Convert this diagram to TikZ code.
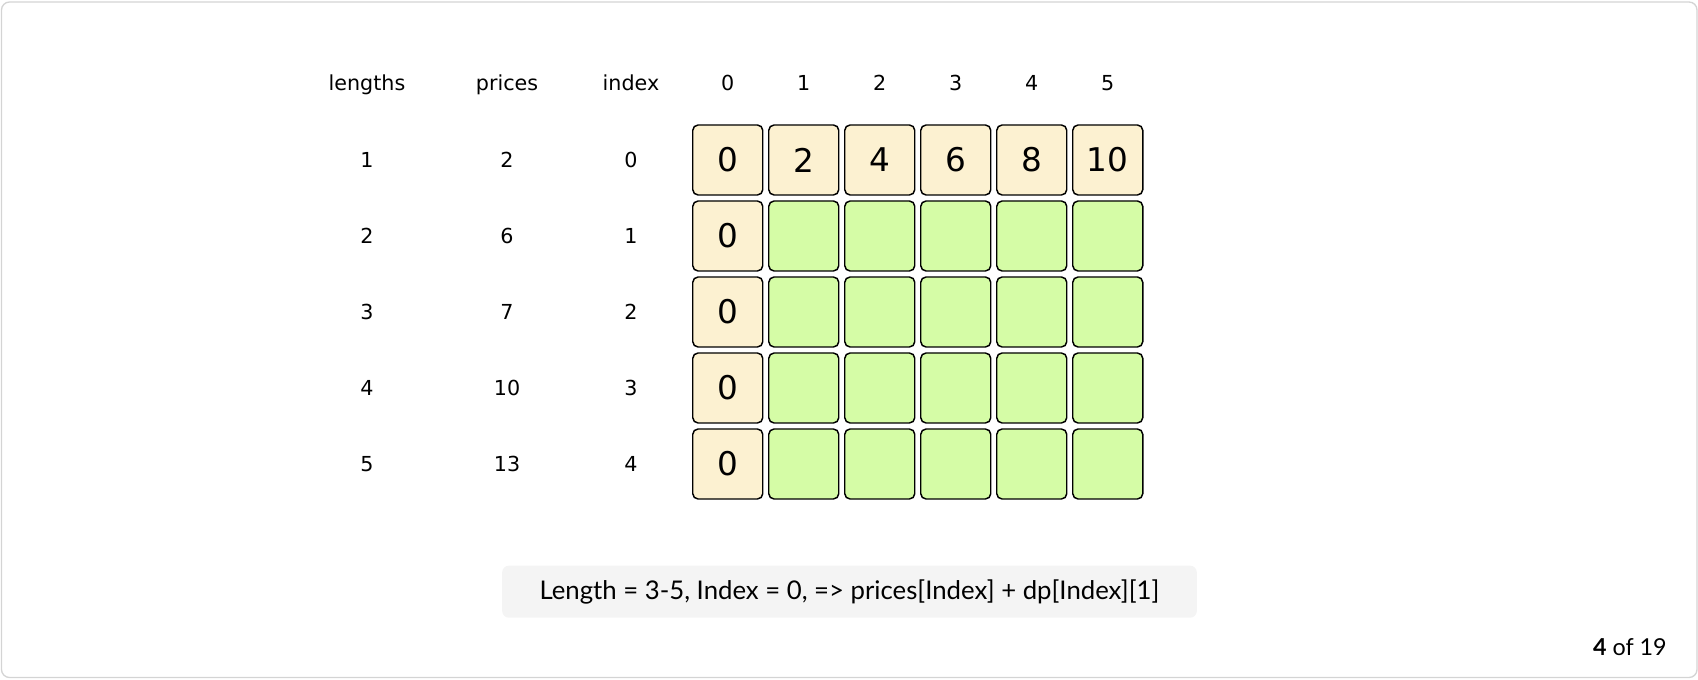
\documentclass[tikz,border=0pt]{standalone}
\usepackage{fontspec}
\newfontfamily\vfont{DejaVu Sans}
\newfontfamily\lfont{Lato}
\definecolor{cream}{RGB}{252,241,209}
\definecolor{lgreen}{RGB}{213,252,166}
\definecolor{boxgray}{RGB}{244,244,244}
\definecolor{framegray}{RGB}{212,212,212}
\begin{document}
\begin{tikzpicture}[x=0.75pt,y=-0.75pt,
  lbl/.style={font=\vfont\fontsize{15.5pt}{18pt}\selectfont, inner sep=0pt, anchor=base},
  cellbase/.style={draw=black, line width=1.1pt, rounded corners=4pt, minimum size=52.5pt, inner sep=0pt, font=\vfont\fontsize{24.5pt}{28pt}\selectfont},
  hcell/.style={cellbase, fill=cream},
  gcell/.style={cellbase, fill=lgreen}]
\useasboundingbox (0,0) rectangle (1698,680);
\draw[framegray, line width=1pt, rounded corners=6pt] (1.5,2) rectangle (1697,677.5);
% headers
\node[lbl] (hl) at (367,90.7) {lengths};
\node[lbl] (hp) at (507,90.7) {prices};
\node[lbl] (hi) at (631,90.7) {index};
\foreach \i in {0,...,5} {
  \node[lbl] (hc\i) at ({727.75+76*\i},90.7) {\i};
}
% left columns
\foreach \j/\l/\p in {0/1/2,1/2/6,2/3/7,3/4/10,4/5/13} {
  \node[lbl] (L\j) at (367,{167.5+76*\j}) {\l};
  \node[lbl] (P\j) at (507,{167.5+76*\j}) {\p};
  \node[lbl] (I\j) at (631,{167.5+76*\j}) {\j};
}
% first row
\foreach \i/\v in {0/0,1/2,2/4,3/6,4/8,5/10} {
  \node[hcell] (c0\i) at ({727.75+76*\i},160) {\v};
}
% other rows
\foreach \j in {1,...,4} {
  \node[hcell] (c\j0) at (727.75,{160+76*\j}) {0};
  \foreach \i in {1,...,5} {
    \node[gcell] (c\j\i) at ({727.75+76*\i},{160+76*\j}) {};
  }
}
% bottom box
\node[fill=boxgray, rounded corners=5pt, minimum width=521pt, minimum height=39pt, inner sep=0pt,
  font=\lfont\fontsize{19.3pt}{22pt}\selectfont] (msg) at (849.5,591.7) {Length = 3-5, Index = 0, => prices[Index] + dp[Index][1]};
\node[anchor=base east, inner sep=0pt, font=\lfont\fontsize{17.5pt}{20pt}\selectfont] (pg) at (1667,655) {\textbf{4} of 19};
\end{tikzpicture}
\end{document}
